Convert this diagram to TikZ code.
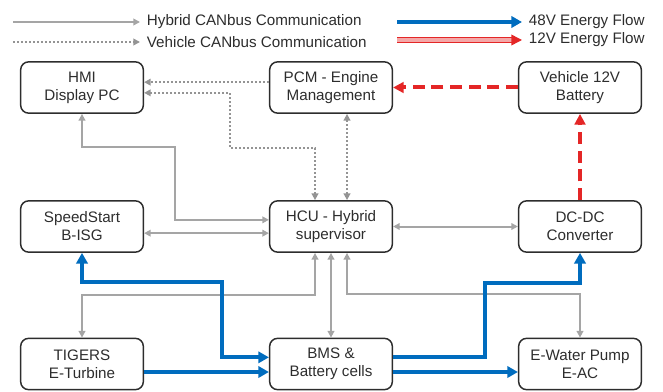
\documentclass[tikz,border=0pt]{standalone}
\usepackage{fontspec}
\setmainfont{Liberation Sans}
\usetikzlibrary{arrows.meta}

\definecolor{busgray}{RGB}{165,165,165}
\definecolor{blue48}{RGB}{0,108,190}
\definecolor{red12}{RGB}{228,38,38}
\definecolor{textgray}{RGB}{45,45,45}

\tikzset{
  gtip/.tip={Triangle[length=5pt,width=5pt]},
  btip/.tip={Triangle[length=8pt,width=8.5pt]},
  rtip/.tip={Triangle[length=8pt,width=8pt]},
  unit/.style={draw=textgray, line width=1.1pt, rounded corners=6pt,
    minimum width=92pt, minimum height=38.5pt, align=center,
    text=textgray, font=\fontsize{11.4}{13.5}\selectfont},
  legend/.style={anchor=west, inner xsep=5pt, inner ysep=0pt,
    text=textgray, font=\fontsize{11.4}{13.5}\selectfont},
  can/.style={draw=busgray, line width=1.5pt},
  vcan/.style={can, draw=busgray!90!black, dash pattern=on 1.5pt off 1.5pt},
  flow48/.style={draw=blue48, line width=3pt},
  flow12/.style={draw=red12, line width=3pt, dash pattern=on 9pt off 5pt}
}

\begin{document}
\begin{tikzpicture}[x=0.75pt,y=-0.75pt]
  \useasboundingbox (0,0) rectangle (663,392);

  % legend
  \coordinate (hybstart) at (13,22);
  \coordinate (vehstart) at (13,42);
  \coordinate (v48start) at (397,22);
  \coordinate (v12start) at (397,40);
  \node[legend] (hybtxt) at (140,22) {Hybrid CANbus Communication};
  \node[legend] (vehtxt) at (140,42) {Vehicle CANbus Communication};
  \node[legend] (v48txt) at (522,22) {48V Energy Flow};
  \node[legend] (v12txt) at (522,40) {12V Energy Flow};
  \draw[can,-gtip] (hybstart) -- (hybtxt.west);
  \draw[vcan,-gtip] (vehstart) -- (vehtxt.west);
  \draw[flow48,-btip] (v48start) -- (v48txt.west);
  \draw[draw=red12, line width=1.1pt, double=red12!40!white,
    double distance=2.4pt, -rtip] (v12start) -- (v12txt.west);

  % units
  \node[unit] (hmi) at (82,87.5) {HMI\\Display PC};
  \node[unit] (pcm) at (331,87.5) {PCM - Engine\\Management};
  \node[unit] (bat) at (580,87.5) {Vehicle 12V\\Battery};
  \node[unit] (isg) at (82,226.5) {SpeedStart\\B-ISG};
  \node[unit] (hcu) at (331,226.5) {HCU - Hybrid\\supervisor};
  \node[unit] (dcdc) at (580,226.5) {DC-DC\\Converter};
  \node[unit] (tig) at (82,364) {TIGERS\\E-Turbine};
  \node[unit] (bms) at (331,364) {BMS \&\\Battery cells};
  \node[unit] (ewp) at (580,364) {E-Water Pump\\E-AC};

  % vehicle CAN
  \draw[vcan,-gtip] ([yshift=4pt]pcm.west) -- ([yshift=4pt]hmi.east);
  \draw[vcan,gtip-gtip] ([xshift=-12pt]hcu.north) |- (230,148)
    |- ([yshift=-4pt]hmi.east);
  \draw[vcan,gtip-gtip] ([xshift=12pt]pcm.south) -- ([xshift=12pt]hcu.north);

  % hybrid CAN
  \draw[can,gtip-gtip] (hmi.south) |- (175,147) |- ([yshift=5pt]hcu.west);
  \draw[can,gtip-gtip] ([yshift=-5pt]isg.east) -- ([yshift=-5pt]hcu.west);
  \draw[can,gtip-gtip] (hcu.east) -- (dcdc.west);
  \draw[can,gtip-gtip] ([xshift=-12pt]hcu.south) -- ++(0,42) -| (tig.north);
  \draw[can,gtip-gtip] (hcu.south) -- (bms.north);
  \draw[can,gtip-gtip] ([xshift=12pt]hcu.south) -- ++(0,41) -| (ewp.north);

  % 12V flow
  \draw[flow12,-rtip] (bat.west) -- (pcm.east);
  \draw[flow12,-rtip] (dcdc.north) -- (bat.south);

  % 48V flow
  \draw[flow48,btip-btip] (isg.south) |- (222,282) |- ([yshift=5pt]bms.west);
  \draw[flow48,-btip] ([yshift=-6pt]tig.east) -- ([yshift=-6pt]bms.west);
  \draw[flow48,-btip] ([yshift=5pt]bms.east) -| (485,283) -| (dcdc.south);
  \draw[flow48,-btip] ([yshift=-6pt]bms.east) -- ([yshift=-6pt]ewp.west);
\end{tikzpicture}
\end{document}
